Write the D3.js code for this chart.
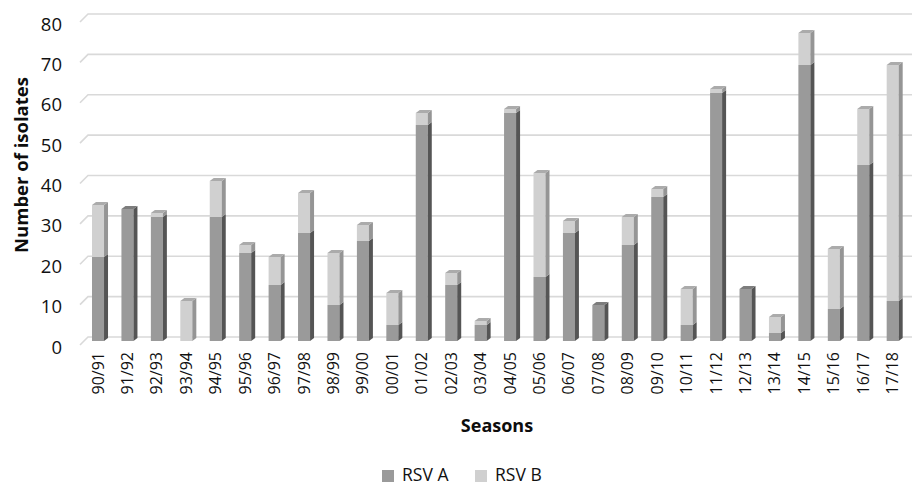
<!DOCTYPE html>
<html><head><meta charset="utf-8">
<script src="https://cdn.jsdelivr.net/npm/d3@7"></script>
<style>
html,body{margin:0;padding:0;background:#fff;}
svg{display:block;font-family:"Open Sans","Noto Sans",sans-serif;}
</style></head>
<body><svg id="chart" width="914" height="486"></svg>
<script>
const categories = ["90/91","91/92","92/93","93/94","94/95","95/96","96/97","97/98","98/99","99/00","00/01","01/02","02/03","03/04","04/05","05/06","06/07","07/08","08/09","09/10","10/11","11/12","12/13","13/14","14/15","15/16","16/17","17/18"];
const rsvA = [21,33,31,0,31,22,14,27,9,25,4,54,14,4,57,16,27,9,24,36,4,62,13,2,69,8,44,10];
const rsvB = [13,0,1,10,9,2,7,10,13,4,8,3,3,1,1,26,3,0,7,2,9,1,0,4,8,15,14,59];
const yTicks = [0,10,20,30,40,50,60,70,80];
const seriesNames = ["RSV A","RSV B"];

const svg = d3.select("#chart");
const depthX = 4, depthY = 3;
const wallX = 8, wallY = 8;

const x = d3.scaleBand().domain(categories).range([85.3, 909.4]).paddingInner(0.456).paddingOuter(0.228);
const yF = d3.scaleLinear().domain([0,80]).range([341,21]);
const yG = d3.scaleLinear().domain([0,80]).range([337,14]);

const colors = {
  "RSV A": {front:"#9a9a9a", side:"#555555", top:"#7d7d7d"},
  "RSV B": {front:"#d0d0d0", side:"#959595", top:"#ababab"}
};

// gridlines
const gl = svg.append("g");
yTicks.forEach(v => {
  const yy = yG(v);
  gl.append("path")
    .attr("d", `M${80},${yy+wallY} L${80+wallX},${yy} L912,${yy}`)
    .attr("fill","none").attr("stroke","#d9d9d9").attr("stroke-width",1.6);
});

// y tick labels
svg.append("g").selectAll("text").data(yTicks).join("text")
  .attr("x", 62).attr("y", d => yG(d) + 9)
  .attr("text-anchor","end").attr("dominant-baseline","central")
  .attr("font-size", 18.5).attr("fill","#111").text(d => d);

// bars
const fw = x.bandwidth() - depthX;
const bars = svg.append("g");
categories.forEach((c, i) => {
  const segs = [
    {name:"RSV A", lo:0, hi:rsvA[i]},
    {name:"RSV B", lo:rsvA[i], hi:rsvA[i]+rsvB[i]}
  ].filter(s => s.hi > s.lo);
  const x0 = x(c);
  segs.forEach((s, k) => {
    const col = colors[s.name];
    const yt = yF(s.hi), yb = yF(s.lo);
    bars.append("rect").attr("x", x0).attr("y", yt).attr("width", fw).attr("height", yb - yt).attr("fill", col.front);
    bars.append("path")
      .attr("d", `M${x0+fw},${yt} L${x0+fw+depthX},${yt-depthY} L${x0+fw+depthX},${yb-depthY} L${x0+fw},${yb}Z`)
      .attr("fill", col.side);
    if (k === segs.length - 1) {
      bars.append("path")
        .attr("d", `M${x0},${yt} L${x0+depthX},${yt-depthY} L${x0+fw+depthX},${yt-depthY} L${x0+fw},${yt}Z`)
        .attr("fill", col.top);
    }
  });
});

// x labels
svg.append("g").selectAll("text").data(categories).join("text")
  .attr("transform", d => `translate(${x(d) + fw/2 + 5.5},352) rotate(-90)`)
  .attr("text-anchor","end")
  .attr("font-size", 16).attr("fill","#111").text(d => d);

// axis titles
svg.append("text").attr("transform","translate(28,165) rotate(-90)")
  .attr("text-anchor","middle").attr("font-size",18.5).attr("font-weight","bold").attr("fill","#0d0d0d")
  .text("Number of isolates");
svg.append("text").attr("x", 497).attr("y", 432)
  .attr("text-anchor","middle").attr("font-size",18).attr("font-weight","bold").attr("fill","#0d0d0d")
  .text("Seasons");

// legend
const lg = svg.append("g");
const legendX = [382, 475];
seriesNames.forEach((n, i) => {
  lg.append("rect").attr("x", legendX[i]).attr("y", 470).attr("width", 12).attr("height", 12).attr("fill", colors[n].front);
  lg.append("text").attr("x", legendX[i] + 20).attr("y", 481)
    .attr("font-size", 17.5).attr("fill","#111").text(n);
});
</script></body></html>
